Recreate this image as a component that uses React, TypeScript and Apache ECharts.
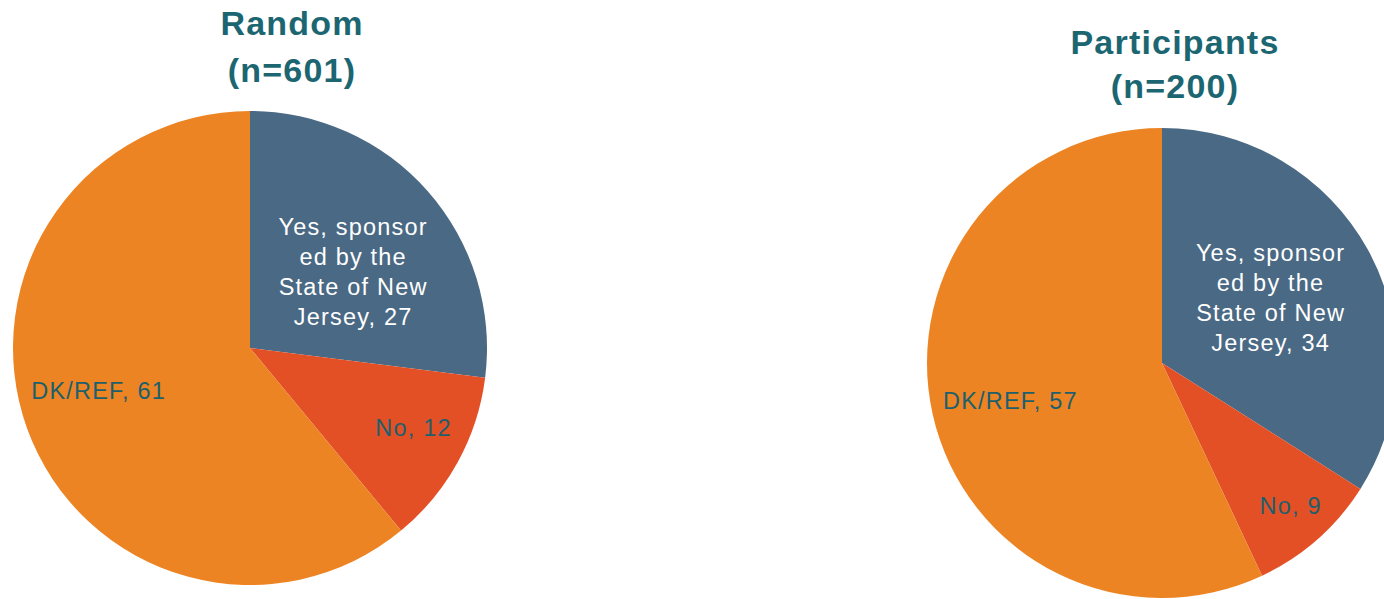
import React, { useEffect, useRef } from "react";
import * as echarts from "echarts";

const categories = ["Yes, sponsored by the State of New Jersey", "No", "DK/REF"];
const categoryLabels = ["Yes, sponsor\ned by the\nState of New\nJersey", "No", "DK/REF"];
const randomValues = [27, 12, 61];
const participantValues = [34, 9, 57];
const titles = ["Random\n(n=601)", "Participants\n(n=200)"];
const colors = ["#4A6984", "#E35026", "#EC8424"];
const labelColors = ["#FFFFFF", "#1D5F6C", "#1D5F6C"];

const randomOffsets = [[12, 4], [57, 21], [-37, 2]];
const participantOffsets = [[3, -7], [49, 53], [-34, 12]];

const FONT = "'Liberation Sans', Arial, Helvetica, sans-serif";

function buildData(values: number[], offsets: number[][]) {
  return categories.map((name, i) => ({
    name,
    value: values[i],
    itemStyle: { color: colors[i] },
    label: {
      color: labelColors[i],
      offset: offsets[i],
    },
  }));
}

export default function App() {
  const ref = useRef<HTMLDivElement>(null);
  useEffect(() => {
    if (!ref.current) return;
    const chart = echarts.init(ref.current, null, { renderer: "svg" });
    const labelCommon = {
      show: true,
      position: "inside",
      fontFamily: FONT,
      fontSize: 23.5,
      lineHeight: 30,
      align: "center",
      formatter: (p: any) => `${categoryLabels[p.dataIndex]}, ${p.value}`,
    };
    chart.setOption({
      animation: false,
      backgroundColor: "#FFFFFF",
      title: [
        {
          text: titles[0],
          left: 287,
          top: -6,
          textAlign: "center",
          textStyle: {
            fontFamily: FONT,
            fontWeight: "bold",
            fontSize: 34,
            lineHeight: 47,
            color: "#1C6672",
          },
        },
        {
          text: titles[1],
          left: 1170,
          top: 15,
          textAlign: "center",
          textStyle: {
            fontFamily: FONT,
            fontWeight: "bold",
            fontSize: 34,
            lineHeight: 44,
            color: "#1C6672",
          },
        },
      ],
      series: [
        {
          type: "pie",
          center: [250, 348],
          radius: 237,
          startAngle: 90,
          clockwise: true,
          silent: true,
          label: labelCommon,
          labelLine: { show: false },
          itemStyle: { borderWidth: 0 },
          data: buildData(randomValues, randomOffsets),
        },
        {
          type: "pie",
          center: [1162, 363],
          radius: 235,
          startAngle: 90,
          clockwise: true,
          silent: true,
          label: labelCommon,
          labelLine: { show: false },
          itemStyle: { borderWidth: 0 },
          data: buildData(participantValues, participantOffsets),
        },
      ],
    });
    return () => chart.dispose();
  }, []);
  return (
    <>
      <style>{`.pie-chart svg text { letter-spacing: 1.2px; }`}</style>
      <div
        ref={ref}
        className="pie-chart"
        style={{ position: "fixed", left: 0, top: 0, width: 1384, height: 599 }}
      />
    </>
  );
}
